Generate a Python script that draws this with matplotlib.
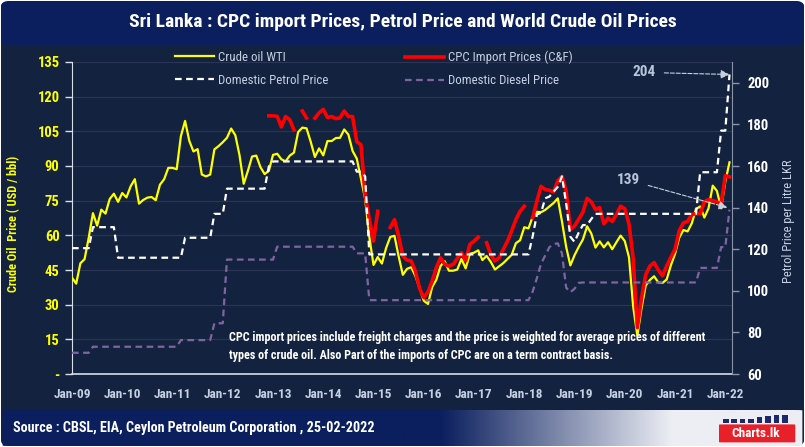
import numpy as np
import matplotlib
matplotlib.use("Agg")
import matplotlib.pyplot as plt
from matplotlib import font_manager
from matplotlib.patches import FancyBboxPatch, Rectangle

# pick a condensed font if there is one
fonts = font_manager.fontManager.ttflist
names = {f.name for f in fonts}
narrow = None
for cand in ["Roboto Condensed", "Liberation Sans Narrow", "Open Sans Condensed",
             "Noto Sans Condensed", "DejaVu Sans Condensed"]:
    if cand in names:
        narrow = cand
        break
stretch = "normal"
if narrow is None:
    narrow = "DejaVu Sans"
    if any(f.name == "DejaVu Sans" and f.stretch == "condensed" for f in fonts):
        stretch = "condensed"
plt.rcParams["font.family"] = [narrow, "DejaVu Sans"]
plt.rcParams["font.stretch"] = stretch

# ---- data (monthly, Jan-09 .. Feb-22) ----
wti = [
    41.7, 39.1, 47.9, 49.7, 59.0, 69.6, 64.2, 71.1, 69.4, 75.7, 78.0, 74.5,
    78.3, 76.4, 81.2, 84.3, 73.7, 75.3, 76.3, 76.6, 75.2, 81.9, 84.3, 89.2,
    89.2, 88.6, 102.9, 109.5, 100.9, 96.3, 97.3, 86.3, 85.5, 86.3, 97.2, 98.6,
    100.3, 102.2, 106.2, 103.3, 94.7, 82.3, 87.9, 94.1, 94.5, 89.5, 86.5, 87.9,
    94.8, 95.3, 92.9, 92.0, 94.5, 95.8, 104.7, 106.6, 106.3, 100.5, 93.9, 97.6,
    94.6, 100.8, 100.8, 102.1, 102.2, 105.8, 103.6, 96.5, 93.2, 84.4, 75.8, 59.3,
    47.2, 50.6, 47.8, 54.5, 59.3, 59.8, 50.9, 42.9, 45.5, 46.2, 42.4, 37.2,
    31.7, 30.3, 37.6, 40.8, 46.7, 48.8, 44.7, 44.7, 45.2, 49.8, 45.7, 52.0,
    52.5, 53.5, 49.3, 51.1, 48.5, 45.2, 46.6, 48.0, 49.8, 51.6, 56.6, 57.9,
    63.5, 63.0, 68.0, 70.2, 70.0, 71.0, 72.5, 74.0, 76.0, 66.0, 55.0, 47.0,
    51.4, 55.0, 58.2, 63.9, 60.8, 54.7, 57.4, 54.8, 57.0, 54.0, 57.0, 59.9,
    57.5, 50.5, 29.2, 16.6, 28.6, 38.3, 40.7, 42.3, 39.6, 39.4, 40.9, 47.0,
    52.0, 59.0, 62.3, 61.7, 65.2, 71.4, 72.5, 67.7, 71.7, 81.5, 79.2, 71.7,
    83.2, 91.6,
]

nan = np.nan
cpc = [
    nan, nan, nan, nan, nan, nan, nan, nan, nan, nan, nan, nan,
    nan, nan, nan, nan, nan, nan, nan, nan, nan, nan, nan, nan,
    nan, nan, nan, nan, nan, nan, nan, nan, nan, nan, nan, nan,
    nan, nan, nan, nan, nan, nan, nan, nan, nan, nan, nan, 111.7,
    111.7, 111.5, 106.9, 111.4, 110.0, 105.6, nan, 113.8, 110.8, nan, 110.7, 113.0,
    114.5, 111.0, 111.4, 110.5, 110.8, 113.8, 111.4, 111.4, 100.5, 99.2, 77.6, 67.0,
    57.5, 70.4, nan, nan, 63.4, 66.8, 59.6, 51.0, 49.3, 48.9, 44.5, 37.0,
    33.1, 35.5, 40.2, 46.0, 50.3, 47.5, 46.7, 47.4, 50.0, 52.5, 49.0, 56.1,
    57.5, 59.2, nan, 56.8, 51.7, 48.9, 50.3, 54.0, 57.5, 62.0, 66.8, 70.4,
    72.6, nan, 67.6, 74.7, 81.2, 79.8, 79.5, 78.8, 83.5, 85.5, 79.0, 62.5,
    64.0, 67.0, 70.0, 76.0, 74.5, 71.2, 72.0, 65.0, 67.5, 66.0, 69.0, 72.6,
    71.5, 65.0, 50.0, 20.1, 33.0, 43.0, 46.7, 48.2, 45.0, 42.5, 46.7, 50.5,
    54.0, 62.0, 65.4, 66.0, 69.0, 69.4, 69.3, 74.5, 75.5, 75.0, 74.5, 73.5,
    85.8, 85.3,
]

petrol = [
    120.5, 120.5, 120.5, 120.5, 120.5, 130.6, 130.6, 130.6, 130.6, 130.6, 130.6, 115.9,
    115.9, 115.9, 115.9, 115.9, 115.9, 115.9, 115.9, 115.9, 115.9, 115.9, 115.9, 115.9,
    115.9, 115.9, 115.9, 125.5, 125.5, 125.5, 125.5, 125.5, 125.5, 125.5, 137.0, 137.0,
    137.0, 149.1, 149.1, 149.1, 149.1, 149.1, 149.1, 149.1, 149.1, 149.1, 149.1, 159.8,
    162.2, 162.2, 162.2, 162.2, 162.2, 162.2, 162.2, 162.2, 162.2, 162.2, 162.2, 162.2,
    162.2, 162.2, 162.2, 162.2, 162.2, 162.2, 162.2, 162.2, 157.3, 157.3, 155.0, 117.5,
    117.5, 117.5, 117.5, 117.5, 117.5, 117.5, 117.5, 117.5, 117.5, 117.5, 117.5, 117.5,
    117.5, 117.5, 117.5, 117.5, 117.5, 117.5, 117.5, 117.5, 117.5, 117.5, 117.5, 117.5,
    117.5, 117.5, 117.5, 117.5, 117.5, 117.5, 117.5, 117.5, 117.5, 117.5, 117.5, 117.5,
    117.5, 117.5, 126.2, 136.7, 137.5, 144.5, 145.3, 147.7, 150.0, 155.0, 142.0, 126.0,
    123.5, 128.0, 131.6, 131.6, 134.5, 137.0, 137.0, 137.0, 137.0, 137.0, 137.0, 137.0,
    137.0, 137.0, 137.0, 137.0, 137.0, 137.0, 137.0, 137.0, 137.0, 137.0, 137.0, 137.0,
    137.0, 137.0, 137.0, 137.0, 137.0, 137.0, 157.0, 157.0, 157.0, 157.0, 157.0, 177.0,
    177.0, 204.0,
]

diesel = [
    70.2, 70.2, 70.2, 70.2, 70.2, 73.1, 73.1, 73.1, 73.1, 73.1, 73.1, 73.1,
    73.1, 73.1, 73.1, 73.1, 73.1, 73.1, 73.1, 73.1, 73.1, 73.1, 73.1, 73.1,
    73.1, 73.1, 76.3, 76.3, 76.3, 76.3, 76.3, 76.3, 76.3, 76.3, 84.4, 84.4,
    84.4, 115.0, 115.0, 115.0, 115.0, 115.0, 115.0, 115.0, 115.0, 115.0, 115.0, 115.0,
    115.0, 121.2, 121.2, 121.2, 121.2, 121.2, 121.2, 121.2, 121.2, 121.2, 121.2, 121.2,
    121.2, 121.2, 121.2, 121.2, 121.2, 121.2, 121.2, 121.2, 118.0, 118.0, 118.0, 95.5,
    95.5, 95.5, 95.5, 95.5, 95.5, 95.5, 95.5, 95.5, 95.5, 95.5, 95.5, 95.5,
    95.5, 95.5, 95.5, 95.5, 95.5, 95.5, 95.5, 95.5, 95.5, 95.5, 95.5, 95.5,
    95.5, 95.5, 95.5, 95.5, 95.5, 95.5, 95.5, 95.5, 95.5, 95.5, 95.5, 95.5,
    95.5, 95.5, 99.6, 106.0, 113.0, 117.0, 121.0, 122.5, 122.8, 118.0, 101.5, 99.3,
    101.0, 103.8, 104.0, 104.0, 104.0, 104.0, 104.0, 104.0, 104.0, 104.0, 104.0, 104.0,
    104.0, 104.0, 104.0, 104.0, 104.0, 104.0, 104.0, 104.0, 104.0, 104.0, 104.0, 104.0,
    104.0, 104.0, 104.0, 104.0, 104.0, 104.0, 111.0, 111.0, 111.0, 111.0, 111.0, 121.0,
    121.0, 139.0,
]

year_labels = ["Jan-09", "Jan-10", "Jan-11", "Jan-12", "Jan-13", "Jan-14", "Jan-15",
               "Jan-16", "Jan-17", "Jan-18", "Jan-19", "Jan-20", "Jan-21", "Jan-22"]

months = np.arange(len(wti))

# ---- colours ----
body = "#13233f"
navy = "#0b1f5e"
txt_blue = "#c6d0e3"

W, H = 805, 447
fig = plt.figure(figsize=(W / 100, H / 100), dpi=100, facecolor="white")


def box(x0, y0, x1, y1):
    # pixel box (origin top-left) -> figure rect
    return [x0 / W, 1 - y1 / H, (x1 - x0) / W, (y1 - y0) / H]


fig.patches.append(FancyBboxPatch((1 / W, 1 / H), 1 - 2 / W, 1 - 2 / H,
                                  boxstyle="round,pad=0,rounding_size=0.012",
                                  transform=fig.transFigure, fc=body, ec="none", zorder=-10))
# title bar
fig.patches.append(FancyBboxPatch((1 / W, 1 - 45 / H), 1 - 2 / W, 44 / H,
                                  boxstyle="round,pad=0,rounding_size=0.012",
                                  transform=fig.transFigure, fc=navy, ec="none", zorder=-9))
fig.text(0.5, 1 - 22 / H, "Sri Lanka : CPC import Prices, Petrol Price and World Crude Oil Prices",
         ha="center", va="center", color="white", fontsize=14, fontweight="bold")

# footer with gradient
axf = fig.add_axes(box(1, 410, 804, 446))
xs = np.linspace(0, 803, 800)
t = np.clip((xs - 440) / 230, 0, 1)
c0 = np.array([11, 31, 94]) / 255
c1 = np.array([236, 238, 244]) / 255
grad = (c0[None, :] * (1 - t[:, None]) + c1[None, :] * t[:, None])[None, :, :]
im = axf.imshow(grad, aspect="auto", extent=(0, 1, 0, 1))
clip = FancyBboxPatch((0.002, 0.0), 0.996, 1.0, boxstyle="round,pad=0,rounding_size=0.01",
                      transform=axf.transAxes, fc="none", ec="none")
axf.add_patch(clip)
im.set_clip_path(clip)
axf.set_xlim(0, 1)
axf.set_ylim(0, 1)
axf.axis("off")
axf.text(0.015, 0.5, "Source : CBSL, EIA, Ceylon Petroleum Corporation , 25-02-2022",
         color="white", fontsize=10.2, fontweight="bold", va="center", ha="left",
         transform=axf.transAxes)
# charts.lk logo
lx0 = 718 / 803
axf.add_patch(FancyBboxPatch((lx0, 0.1), 0.095, 0.5, boxstyle="round,pad=0,rounding_size=0.006",
                             fc="#e8202a", ec="none", transform=axf.transAxes))
axf.text(lx0 + 0.045, 0.35, "Charts.lk", color="white", fontsize=9.5, fontweight="bold",
         ha="center", va="center", transform=axf.transAxes)
for i, hgt in enumerate([0.1, 0.1, 0.1, 0.1, 0.15, 0.18, 0.2, 0.22]):
    axf.add_patch(Rectangle((lx0 + 0.005 + i * 0.0105, 0.65), 0.007, hgt,
                            fc="#1b2a6b", ec="none", transform=axf.transAxes))

# ---- main chart ----
ax = fig.add_axes(box(72, 62, 732, 374))
ax.set_facecolor("none")
ax2 = ax.twinx()

l_wti, = ax.plot(months, wti, color="#ffff00", lw=1.6, zorder=3)
l_cpc, = ax.plot(months, cpc, color="#ff0000", lw=2.6, zorder=4)
l_pet, = ax2.plot(months, petrol, color="white", lw=1.6, dashes=(3, 2))
l_dsl, = ax2.plot(months, diesel, color="#8064a2", lw=1.6, dashes=(3, 2))

ax.set_xlim(0, 157.6)
ax.set_ylim(0, 135)
ax2.set_ylim(60, 210)

ax.set_yticks(np.arange(0, 136, 15))
ax.set_yticklabels(["-"] + [str(v) for v in range(15, 136, 15)])
ax2.set_yticks(np.arange(60, 201, 20))
ax.set_xticks(np.arange(0, 157, 12))
ax.set_xticklabels(year_labels)

ax.tick_params(axis="y", colors="#d9dee8", labelcolor="#ffff00", length=5, width=1,
               labelsize=10.5, pad=4)
ax.tick_params(axis="x", length=0, labelcolor=txt_blue, labelsize=9.5, pad=10)
ax2.tick_params(axis="y", colors="#8a94a8", labelcolor="white", length=5, width=1,
                labelsize=10.5, pad=6)
for lab in ax.get_yticklabels() + ax.get_xticklabels() + ax2.get_yticklabels():
    lab.set_fontweight("bold")

ax.yaxis.grid(True, color="#2c3556", lw=0.8)
ax.set_axisbelow(True)
for s in ["top", "right"]:
    ax.spines[s].set_visible(False)
for s in ["top", "left", "bottom"]:
    ax2.spines[s].set_visible(False)
ax.spines["left"].set_color("#d9dee8")
ax.spines["bottom"].set_color("#d9dee8")
ax.spines["bottom"].set_linewidth(1.2)
ax2.spines["right"].set_color("#8a94a8")

ax.set_ylabel("Crude Oil  Price ( USD / bbl)", color="#ffff00", fontsize=8.8, fontweight="bold")
ax.yaxis.set_label_coords(-0.079, 0.48)
ax2.set_ylabel("Petrol Price per Litre LKR", color=txt_blue, fontsize=9)
ax2.yaxis.set_label_coords(1.076, 0.49)

ax.text(0.238, 0.088,
        "CPC import prices include freight charges and the price is weighted for average prices of different\n"
        "types of crude oil. Also Part of the imports of CPC are on a term contract basis.",
        transform=ax.transAxes, color="white", fontsize=8.7, fontweight="bold",
        va="center", ha="left", linespacing=1.55)

arrow = dict(arrowstyle="-|>", color="#c8d0dc", lw=0.8, ls="--", shrinkA=4, shrinkB=0,
             mutation_scale=13)
ax2.annotate("204", xy=(157, 204), xytext=(136.7, 205), color="#b9c6da", fontsize=11,
             fontweight="bold", ha="center", va="center", arrowprops=arrow)
ax2.annotate("139", xy=(156.5, 140), xytext=(132.9, 153.3), color="#b9c6da", fontsize=11,
             fontweight="bold", ha="center", va="center", arrowprops=arrow)

leg_kw = dict(frameon=False, fontsize=9.3, labelcolor=txt_blue, handlelength=3.0,
              handletextpad=0.3, labelspacing=0.75, borderpad=0, borderaxespad=0,
              loc="upper left")
fig.legend([l_wti, l_pet], ["Crude oil WTI", "Domestic Petrol Price"],
           bbox_to_anchor=(175 / W, 1 - 51 / H), **leg_kw)
fig.legend([l_cpc, l_dsl], ["CPC Import Prices (C&F)", "Domestic Diesel Price"],
           bbox_to_anchor=(405 / W, 1 - 51 / H), **leg_kw)

fig.savefig("out.png", dpi=100, facecolor="white")
